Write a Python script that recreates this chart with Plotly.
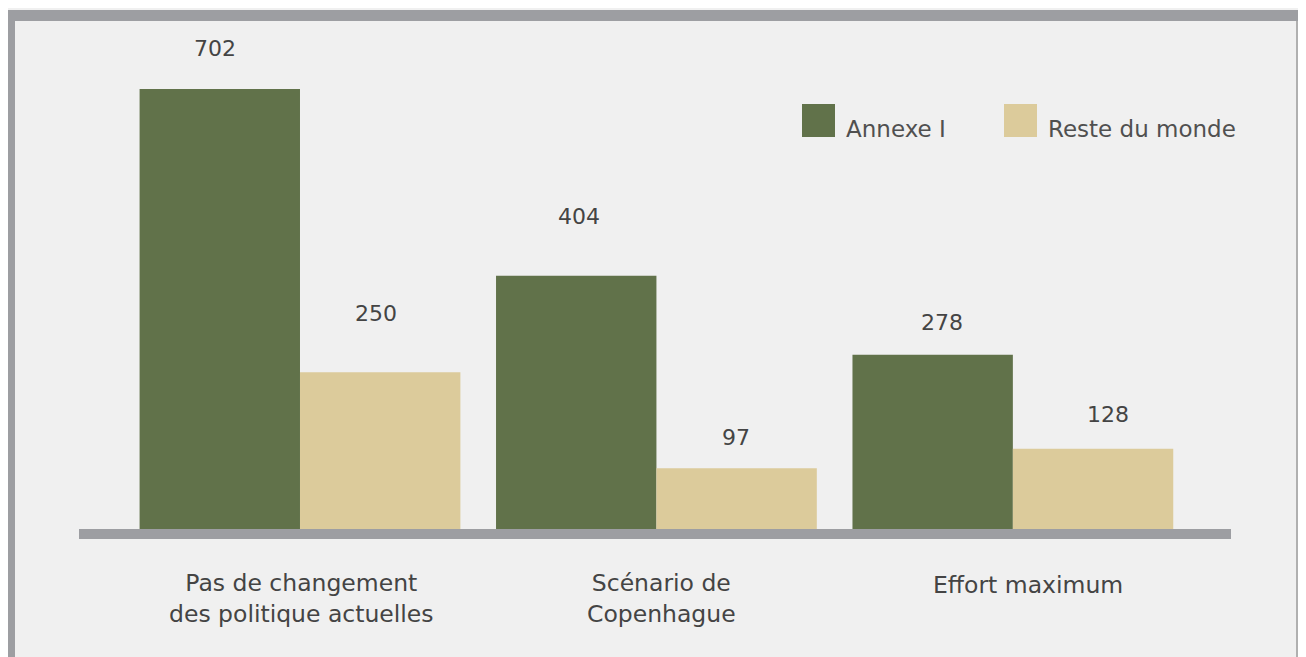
import plotly.graph_objects as go

categories = ["Pas de changement<br>des politique actuelles", "Scénario de<br>Copenhague", "Effort maximum"]
annexe_i = [702, 404, 278]
reste_monde = [250, 97, 128]
series_names = ["Annexe I", "Reste du monde"]

# page has an 8px body margin; design in page coordinates and convert
OFF = 8
W, H = 1306 - OFF, 657 - OFF
L, R, T, B = 79 - OFF, 75, 20 - OFF, 128
PW, PH = W - L - R, H - T - B

def px(x):
    return (x - OFF - L) / PW

def py(y):
    return (H - B - (y - OFF)) / PH

GREEN = "#61724a"
TAN = "#dccb9b"
GRAY = "#9d9ea2"
BG = "#f0f0f0"
FONT = "DejaVu Sans"
TXT = "#444444"

fig = go.Figure()
fig.add_trace(go.Bar(x=categories, y=annexe_i, name=series_names[0], marker_color=GREEN,
                     marker_line_width=0, showlegend=False))
fig.add_trace(go.Bar(x=categories, y=reste_monde, name=series_names[1], marker_color=TAN,
                     marker_line_width=0, showlegend=False))

# value labels (offsets are label placement styles)
lab_dx_a, lab_dy_a = [-5, 3, 9], [40.5, 59, 32]
lab_dx_b, lab_dy_b = [-4, 0, 15], [59, 31, 34]
for i, c in enumerate(categories):
    fig.add_annotation(x=c, y=annexe_i[i], text=str(annexe_i[i]), xref="x", yref="y",
                       xshift=-80 + lab_dx_a[i], yshift=lab_dy_a[i], showarrow=False,
                       font=dict(family=FONT, size=22, color=TXT))
    fig.add_annotation(x=c, y=reste_monde[i], text=str(reste_monde[i]), xref="x", yref="y",
                       xshift=80 + lab_dx_b[i], yshift=lab_dy_b[i], showarrow=False,
                       font=dict(family=FONT, size=22, color=TXT))

# category labels
cat_dx = [2, 5, 15]
cat_dy = [-38, -38, -40]
for i, c in enumerate(categories):
    fig.add_annotation(x=c, y=0, xref="x", yref="y", text=c, showarrow=False,
                       xanchor="center", yanchor="top", xshift=cat_dx[i], yshift=cat_dy[i],
                       font=dict(family=FONT, size=23.5, color=TXT))

shapes = []
# frame background and borders
shapes.append(dict(type="rect", xref="paper", yref="paper", x0=px(0), x1=px(1306), y0=py(10), y1=py(657),
                   fillcolor=BG, line_width=0, layer="below"))
shapes.append(dict(type="rect", xref="paper", yref="paper", x0=px(0), x1=px(1306), y0=py(10), y1=py(21),
                   fillcolor=GRAY, line_width=0, layer="below"))
shapes.append(dict(type="rect", xref="paper", yref="paper", x0=px(0), x1=px(15), y0=py(10), y1=py(657),
                   fillcolor=GRAY, line_width=0, layer="below"))
shapes.append(dict(type="rect", xref="paper", yref="paper", x0=px(1296), x1=px(1298), y0=py(21), y1=py(657),
                   fillcolor="#b0b0b0", line_width=0, layer="below"))
# axis bar
shapes.append(dict(type="rect", xref="paper", yref="paper", x0=px(79), x1=px(1231), y0=py(529), y1=py(539),
                   fillcolor=GRAY, line_width=0))
# legend swatches
for x0, col, name in [(802, GREEN, series_names[0]), (1004, TAN, series_names[1])]:
    shapes.append(dict(type="rect", xref="paper", yref="paper", x0=px(x0), x1=px(x0 + 33), y0=py(104), y1=py(137),
                       fillcolor=col, line_width=0))
    fig.add_annotation(x=px(x0 + 42), y=py(129), xref="paper", yref="paper", text=name, showarrow=False,
                       xanchor="left", yanchor="middle", font=dict(family=FONT, size=23, color="#505050"))

fig.update_layout(
    width=W, height=H,
    margin=dict(l=L, r=R, t=T, b=B),
    paper_bgcolor=BG, plot_bgcolor=BG,
    barmode="group", bargap=0.1, bargroupgap=0,
    shapes=shapes,
    showlegend=False,
    font=dict(family=FONT, color=TXT),
)
fig.update_xaxes(range=[-0.62, 2.612], showgrid=False, zeroline=False, showline=False,
                 ticks="", showticklabels=False)
fig.update_yaxes(range=[0, 812], visible=False)

fig.write_html("out.html")
